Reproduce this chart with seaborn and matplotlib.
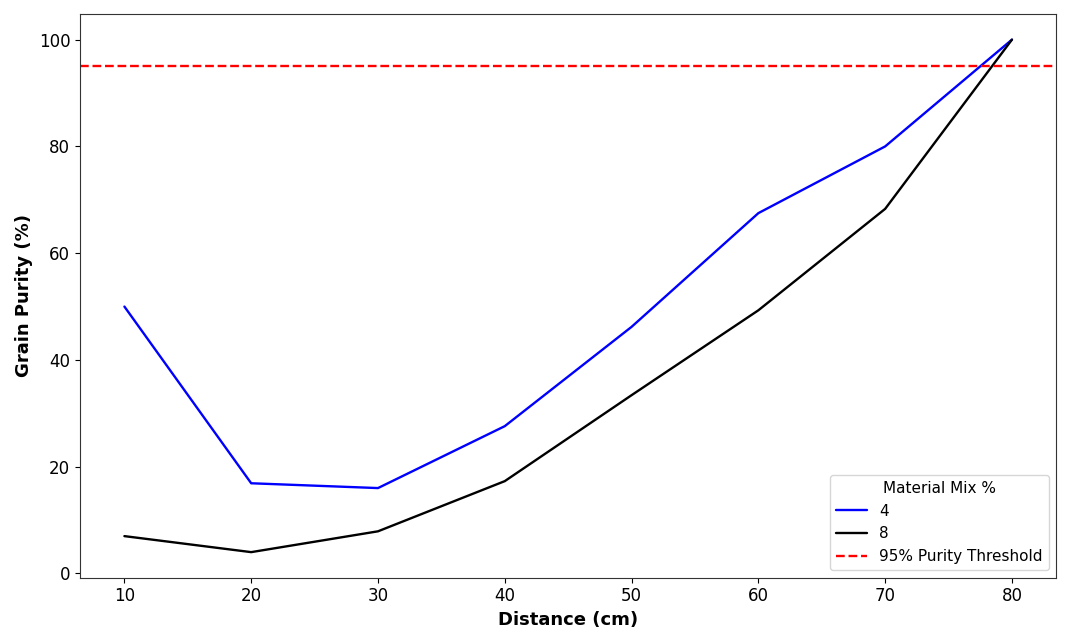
import numpy as np
import pandas as pd
import matplotlib
matplotlib.use("Agg")
import matplotlib.pyplot as plt
import seaborn as sns

distance = [10, 20, 30, 40, 50, 60, 70, 80]
purity_mix4 = [50.0, 16.9, 16.0, 27.6, 46.2, 67.5, 80.0, 100.0]
purity_mix8 = [7.0, 4.0, 7.9, 17.3, 33.4, 49.3, 68.3, 100.0]
mix_labels = [4, 8]
threshold = 95

df = pd.DataFrame({
    "Distance": distance * 2,
    "Purity": purity_mix4 + purity_mix8,
    "Mix": [mix_labels[0]] * len(distance) + [mix_labels[1]] * len(distance),
})

sns.set_style("ticks")
plt.rcParams["font.family"] = ["DejaVu Sans"]
plt.rcParams["text.color"] = "black"
plt.rcParams["axes.labelcolor"] = "black"
plt.rcParams["xtick.color"] = "black"
plt.rcParams["ytick.color"] = "black"

fig = plt.figure(figsize=(10.67, 6.37), dpi=100)
ax = fig.add_axes([0.075, 0.093, 0.915, 0.885])

sns.lineplot(data=df, x="Distance", y="Purity", hue="Mix",
             palette={4: "blue", 8: "black"}, linewidth=1.7, ax=ax)
ax.axhline(threshold, color="red", linestyle="--", linewidth=1.7,
           label="95% Purity Threshold")

ax.set_xlabel("Distance (cm)", fontsize=13, fontweight="bold")
ax.set_ylabel("Grain Purity (%)", fontsize=13, fontweight="bold")
ax.tick_params(labelsize=12)
for s in ax.spines.values():
    s.set_visible(True)
    s.set_color("#333333")

ax.legend(title="Material Mix %", loc="lower right", fontsize=11, title_fontsize=11)

fig.savefig("out.png", dpi=100)
